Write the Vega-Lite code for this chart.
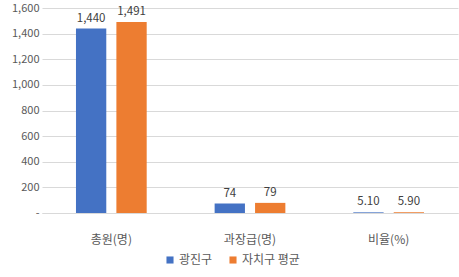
{
  "$schema": "https://vega.github.io/schema/vega-lite/v6.json",
  "width": 416,
  "height": 205,
  "autosize": "none",
  "padding": {"left": 42, "top": 8, "right": 1, "bottom": 64},
  "background": "white",
  "config": {
    "font": "Noto Sans CJK KR",
    "view": {"stroke": null}
  },
  "data": {
    "values": [
      {"category": "총원(명)", "series": "광진구", "value": 1440, "label": "1,440"},
      {"category": "총원(명)", "series": "자치구 평균", "value": 1491, "label": "1,491"},
      {"category": "과장급(명)", "series": "광진구", "value": 74, "label": "74"},
      {"category": "과장급(명)", "series": "자치구 평균", "value": 79, "label": "79"},
      {"category": "비율(%)", "series": "광진구", "value": 5.1, "label": "5.10"},
      {"category": "비율(%)", "series": "자치구 평균", "value": 5.9, "label": "5.90"}
    ]
  },
  "encoding": {
    "x": {
      "field": "category", "type": "nominal", "sort": null,
      "scale": {"paddingInner": 0.49, "paddingOuter": 0.245},
      "axis": {"title": null, "labelAngle": 0, "domain": true, "domainColor": "#d9d9d9", "ticks": false, "labelPadding": 21, "labelFontSize": 12, "labelColor": "#595959"}
    },
    "xOffset": {"field": "series", "type": "nominal", "sort": ["광진구", "자치구 평균"], "scale": {"paddingInner": 0.25, "paddingOuter": 0}},
    "y": {
      "field": "value", "type": "quantitative",
      "scale": {"domain": [0, 1600], "nice": false},
      "axis": {"title": null, "values": [0, 200, 400, 600, 800, 1000, 1200, 1400, 1600], "labelExpr": "datum.value == 0 ? '-' : format(datum.value, ',')", "domain": false, "ticks": false, "gridColor": "#d9d9d9", "labelColor": "#595959", "labelFontSize": 11, "labelPadding": 3}
    }
  },
  "layer": [
    {
      "mark": {"type": "bar"},
      "encoding": {
        "color": {
          "field": "series", "type": "nominal", "sort": ["광진구", "자치구 평균"],
          "scale": {"domain": ["광진구", "자치구 평균"], "range": ["#4472C4", "#ED7D31"]},
          "legend": {"title": null, "orient": "none", "legendX": 122, "legendY": 246, "direction": "horizontal", "symbolType": "square", "symbolSize": 50, "labelFontSize": 12, "labelColor": "#595959", "columnPadding": 14, "symbolStrokeWidth": 0, "labelOffset": 3}
        }
      }
    },
    {
      "mark": {"type": "text", "dy": -10, "fontSize": 11.5, "color": "#404040"},
      "encoding": {"text": {"field": "label"}}
    }
  ]
}
